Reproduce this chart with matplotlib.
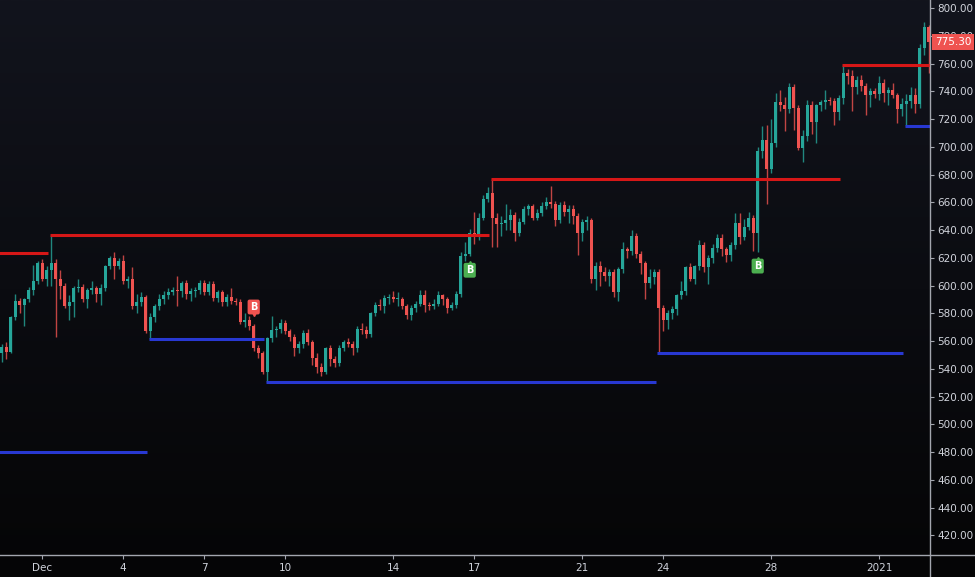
import numpy as np
import pandas as pd
import matplotlib
matplotlib.use("Agg")
import matplotlib.pyplot as plt
from matplotlib.lines import Line2D
from matplotlib.colors import LinearSegmentedColormap

# 4h candles, ETH/USD style
closes = [556, 552, 577, 589, 586, 590, 597, 603, 616, 605,
          611, 616, 605, 600, 585, 588, 598, 599, 590, 597,
          598, 594, 598, 614, 620, 614, 618, 603, 605, 585,
          588, 592, 567, 577, 585, 590, 593, 595, 597, 596,
          602, 594, 596, 597, 602, 595, 601, 591, 595, 588,
          592, 589, 588, 574, 575, 571, 555, 551, 538, 562,
          568, 569, 573, 567, 563, 555, 558, 566, 559, 548,
          541, 538, 555, 547, 544, 555, 559, 558, 555, 569,
          568, 565, 580, 586, 585, 591, 592, 590, 590, 585,
          579, 584, 587, 593, 586, 585, 587, 593, 590, 584,
          586, 594, 621, 623, 638, 636, 649, 662, 667, 649,
          644, 645, 647, 651, 638, 646, 655, 657, 649, 652,
          657, 660, 659, 647, 658, 653, 655, 650, 638, 646,
          647, 605, 614, 610, 607, 610, 595, 612, 626, 625,
          636, 623, 616, 602, 606, 610, 584, 575, 580, 583,
          593, 596, 613, 605, 614, 629, 613, 620, 627, 634,
          626, 622, 629, 645, 635, 642, 649, 638, 697, 705,
          684, 703, 732, 730, 727, 743, 728, 699, 708, 730,
          718, 730, 732, 734, 733, 725, 735, 753, 751, 743,
          748, 744, 737, 740, 738, 746, 739, 741, 737, 727,
          731, 733, 737, 731, 771, 786, 775.3]
highs = [558, 559, 578, 594, 591, 591, 599, 615, 618, 619,
         614, 636.5, 619, 611, 602, 593, 600, 605, 601, 598,
         603, 600, 601, 615, 621, 624, 620, 622, 607, 613,
         594, 595, 593, 580, 587, 594, 596, 598, 599, 607,
         603, 604, 598, 599, 604, 604, 603, 603, 597, 597,
         594, 598, 591, 590, 580, 578, 572, 557, 553, 563,
         578, 571, 576, 575, 569, 565, 560, 568, 569, 561,
         551, 544, 556, 557, 549, 557, 561, 562, 560, 571,
         573, 571, 581, 588, 590, 593, 594, 596, 595, 592,
         587, 586, 589, 597, 597, 588, 590, 596, 594, 592,
         588, 596, 624, 631, 641, 653, 652, 665, 671, 677,
         652, 650, 659, 655, 653, 649, 657, 659, 659, 655,
         660, 664, 672, 661, 660, 661, 658, 658, 652, 648,
         650, 649, 617, 618, 613, 612, 612, 613, 631, 628,
         640, 638, 625, 618, 612, 612, 612, 586, 582, 585,
         594, 603, 614, 616, 615, 633, 631, 622, 630, 637,
         637, 628, 631, 652, 652, 648, 653, 651, 700, 715,
         716, 720, 739, 741, 736, 746, 745, 730, 712, 734,
         733, 731, 734, 741, 736, 735, 737, 759, 756, 755,
         751, 752, 746, 742, 742, 751, 749, 743, 746, 739,
         735, 738, 743, 742, 774, 790, 788]
lows = [545, 547, 551, 575, 580, 571, 588, 593, 601, 603,
        600, 600, 563, 590, 584, 575, 577, 595, 588, 584,
        594, 588, 586, 596, 612, 605, 612, 601, 598, 583,
        580, 585, 566, 561.4, 574, 582, 587, 590, 593, 585,
        592, 590, 589, 592, 594, 593, 593, 589, 588, 585,
        585, 587, 586, 572, 570, 568, 553, 548, 536, 530.5,
        559, 563, 566, 565, 560, 549, 551, 555, 557, 543,
        537, 535, 536, 542, 541, 542, 553, 556, 550, 552,
        565, 562, 563, 578, 582, 580, 587, 588, 585, 583,
        576, 575, 581, 585, 581, 582, 583, 585, 586, 580,
        582, 584, 592, 618, 621, 630, 633, 647, 660, 628,
        628, 636, 640, 640, 632, 636, 644, 651, 647, 647,
        650, 655, 656, 643, 645, 650, 645, 644, 622, 632,
        640, 602, 597, 600, 603, 600, 592, 589, 609, 620,
        622, 620, 608, 590, 598, 601, 551.4, 567, 569, 576,
        579, 590, 593, 603, 601, 611, 610, 601, 616, 624,
        621, 617, 618, 626, 630, 633, 640, 625, 624, 692,
        659, 681, 700, 726, 711, 724, 712, 698, 689, 704,
        709, 703, 726, 727, 730, 716, 719, 731, 745, 726,
        738, 740, 723, 729, 735, 734, 732, 730, 735, 717,
        722, 715, 728, 724, 728, 766, 753]
first_open = 551
opens = [first_open] + closes[:-1]
times = pd.date_range("2020-11-29 12:00", periods=len(closes), freq="4h")

# pivot lines: candle index where each level starts
res_start = [-5, 11, 109, 187]
res_level = [623.4, 636.5, 677, 759]
sup_start = [-5, 33, 59, 146, 201]
sup_level = [480, 561.4, 530.5, 551.4, 715]

sell_marks = [56]
buy_marks = [104, 168]

tick_dates = ["2020-12-01", "2020-12-04", "2020-12-07", "2020-12-10", "2020-12-14",
              "2020-12-17", "2020-12-21", "2020-12-24", "2020-12-28", "2021-01-01"]
tick_labels = ["Dec", "4", "7", "10", "14", "17", "21", "24", "28", "2021"]
last_price = 775.30

UP = "#26a69a"
DOWN = "#ef5350"
TXT = "#d1d4dc"
AXC = "#a3a6ae"
font = ["Liberation Sans Narrow", "DejaVu Sans"]

o = np.array(opens, float)
c = np.array(closes, float)
h = np.array(highs, float)
l = np.array(lows, float)
x = np.arange(len(c))
n = len(c)
up = c >= o
cols = np.where(up, UP, DOWN)

fig = plt.figure(figsize=(9.75, 5.77), dpi=100)

bg = fig.add_axes([0, 0, 1, 1], zorder=-10)
cmap = LinearSegmentedColormap.from_list("bg", ["#050506", "#0b0c11", "#12141d"])
grad = np.linspace(0, 1, 256).reshape(-1, 1)
bg.imshow(grad, aspect="auto", cmap=cmap, origin="lower", extent=[0, 1, 0, 1])
bg.axis("off")

ax = fig.add_axes([0, 22 / 577, 930 / 975, 555 / 577])
ax.patch.set_alpha(0)

ax.vlines(x, l, h, colors=list(cols), linewidth=1.0, alpha=0.8, zorder=2)
ax.bar(x, np.maximum(np.abs(c - o), 0.7), bottom=np.minimum(o, c), width=0.74,
       color=list(cols), linewidth=0, zorder=3)

right_end = n + 5
for i, (s, v) in enumerate(zip(res_start, res_level)):
    e = res_start[i + 1] - 1 if i + 1 < len(res_start) else right_end
    ax.hlines(v, s - 0.3, e + 0.3, color="#d61717", linewidth=2.2, zorder=4)
for i, (s, v) in enumerate(zip(sup_start, sup_level)):
    e = sup_start[i + 1] - 1 if i + 1 < len(sup_start) else right_end
    ax.hlines(v, s - 0.3, e + 0.3, color="#2838d2", linewidth=2.2, zorder=4)

for i in sell_marks:
    yv = h[i] + 12.5
    ax.plot(i, yv - 4.4, marker="v", color=DOWN, markersize=4, zorder=5)
    ax.text(i, yv, "B", ha="center", va="center", color="white", fontsize=7,
            fontweight="bold", zorder=6,
            bbox=dict(boxstyle="round,pad=0.25,rounding_size=0.2", fc=DOWN, ec="none"))
for i in buy_marks:
    yv = l[i] - 10
    ax.plot(i, yv + 4.4, marker="^", color="#4caf50", markersize=4, zorder=5)
    ax.text(i, yv, "B", ha="center", va="center", color="white", fontsize=7,
            fontweight="bold", zorder=6,
            bbox=dict(boxstyle="round,pad=0.25,rounding_size=0.2", fc="#4caf50", ec="none"))

ax.set_xlim(-0.38, 206.29)
ax.set_ylim(405.77, 805.77)

for sp in ax.spines.values():
    sp.set_visible(False)

ax.yaxis.tick_right()
ax.set_yticks(np.arange(420, 801, 20))
ax.set_yticklabels(["%.2f" % v for v in np.arange(420, 801, 20)])
ax.tick_params(axis="y", colors=AXC, labelcolor=TXT, length=3, width=0.8, pad=2,
               labelsize=7.5)

tpos = times.get_indexer(pd.to_datetime(tick_dates))
ax.set_xticks(tpos)
ax.set_xticklabels(tick_labels)
ax.tick_params(axis="x", colors=AXC, labelcolor=TXT, length=3, width=0.8, pad=3,
               labelsize=7.5)
for t in ax.get_xticklabels() + ax.get_yticklabels():
    t.set_family(font)

fig.add_artist(Line2D([930 / 975, 930 / 975], [0, 1], color=AXC, linewidth=1))
fig.add_artist(Line2D([0, 1], [22 / 577, 22 / 577], color=AXC, linewidth=1))

ax.annotate("%.2f" % last_price, xy=(1, last_price),
            xycoords=("axes fraction", "data"), xytext=(3.5, 0),
            textcoords="offset points", ha="left", va="center", color="white",
            fontsize=7.5, family=font, annotation_clip=False, zorder=10,
            bbox=dict(boxstyle="square,pad=0.3", fc=DOWN, ec="none"))

fig.savefig("out.png", dpi=100)
